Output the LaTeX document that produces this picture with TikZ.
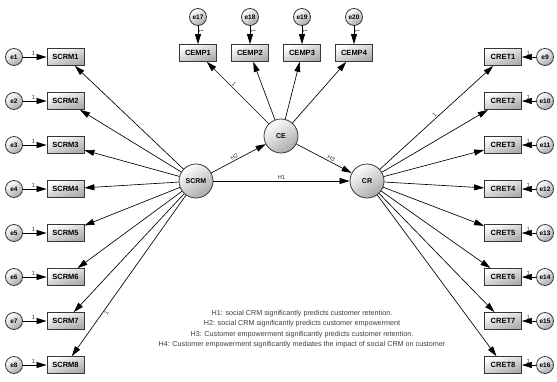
\documentclass[tikz,border=0pt]{standalone}
\usepackage{fontspec}
\setmainfont{Liberation Sans}
\usetikzlibrary{arrows.meta}

\begin{document}
\begin{tikzpicture}[
		x=1pt,
		y=-1pt,
		bienquansat/.style={draw=MauVien, line width=0.8pt, top color=white, bottom color=MauNen, shading angle=20,
			minimum width=37pt, minimum height=17pt, inner sep=0pt, font=\bfseries\fontsize{7.5}{8}\selectfont},
		bienan/.style={circle, draw=MauVien, line width=0.8pt, top color=white, bottom color=MauNen, shading angle=35,
			minimum size=34pt, inner sep=0pt, font=\bfseries\fontsize{7}{8}\selectfont},
		saiso/.style={circle, draw=MauVien, line width=0.8pt, top color=white, bottom color=MauNen, shading angle=35,
			minimum size=17pt, inner sep=0pt, font=\bfseries\fontsize{6.5}{7}\selectfont},
		muiten/.style={-{Triangle[length=10pt,width=6pt]}, line width=0.65pt},
		nhan/.style={font=\fontsize{6}{7}\selectfont, inner sep=1pt, text=MauChu}
	]
	% ===== MÀU SẮC =====
	\definecolor{MauVien}{RGB}{55,55,55}
	\definecolor{MauNen}{RGB}{170,170,170}
	\definecolor{MauChu}{RGB}{60,60,60}

	\useasboundingbox (0,0) rectangle (557,381);

	% ===== BIẾN TIỀM ẨN =====
	\node[bienan] (SCRM) at (196,181) {SCRM};
	\node[bienan] (CE) at (281,136) {CE};
	\node[bienan] (CR) at (367,181) {CR};

	% ===== SCRM VÀ CRET =====
	\foreach \i in {1,...,8}{
		\pgfmathsetmacro\yDong{57+44*(\i-1)}
		\pgfmathtruncatemacro\soE{\i+8}
		\node[saiso] (e\i) at (14,\yDong) {e\i};
		\node[bienquansat] (SCRM\i) at (65.5,\yDong) {SCRM\i};
		\node[bienquansat] (CRET\i) at (503,\yDong) {CRET\i};
		\node[saiso] (e\soE) at (545,\yDong) {e\soE};
		\draw[muiten] (e\i) -- node[nhan, above, pos=0.45] {1} (SCRM\i);
		\draw[muiten] (e\soE) -- node[nhan, above, pos=0.55] {1} (CRET\i);
		\draw[muiten] (SCRM) -- (SCRM\i);
		\draw[muiten] (CR) -- (CRET\i);
	}

	% ===== CEMP =====
	\foreach \j in {1,...,4}{
		\pgfmathsetmacro\xCot{198+52*(\j-1)}
		\pgfmathtruncatemacro\soE{\j+16}
		\node[saiso] (e\soE) at (\xCot,17) {e\soE};
		\node[bienquansat] (CEMP\j) at (\xCot,53) {CEMP\j};
		\draw[muiten] (e\soE) -- node[nhan, pos=0.3, rotate=-90, anchor=south] {1} (CEMP\j);
		\draw[muiten] (CE) -- (CEMP\j);
	}

	% ===== NHÃN 1 =====
	\path (CE) -- node[nhan, sloped, above, pos=0.6] {1} (CEMP1);
	\path (CR) -- node[nhan, sloped, above, pos=0.5] {1} (CRET1);
	\path (SCRM) -- node[nhan, sloped, below, pos=0.72] {1} (SCRM8);

	% ===== GIẢ THUYẾT =====
	\draw[muiten] (SCRM) -- node[nhan, sloped, above, pos=0.45] {H2} (CE);
	\draw[muiten] (CE) -- node[nhan, sloped, above, pos=0.6] {H3} (CR);
	\draw[muiten] (SCRM) -- node[nhan, above] {H1} (CR);

	\node[font=\fontsize{7.2}{10.3}\selectfont, align=center, text=MauChu] (GiaThuyet) at (302,329)
		{H1: social CRM significantly predicts customer retention.\\
		H2: social CRM significantly predicts customer empowerment\\
		H3: Customer empowerment significantly predicts customer retention.\\
		H4: Customer empowerment significantly mediates the impact of social CRM on customer};

\end{tikzpicture}
\end{document}
